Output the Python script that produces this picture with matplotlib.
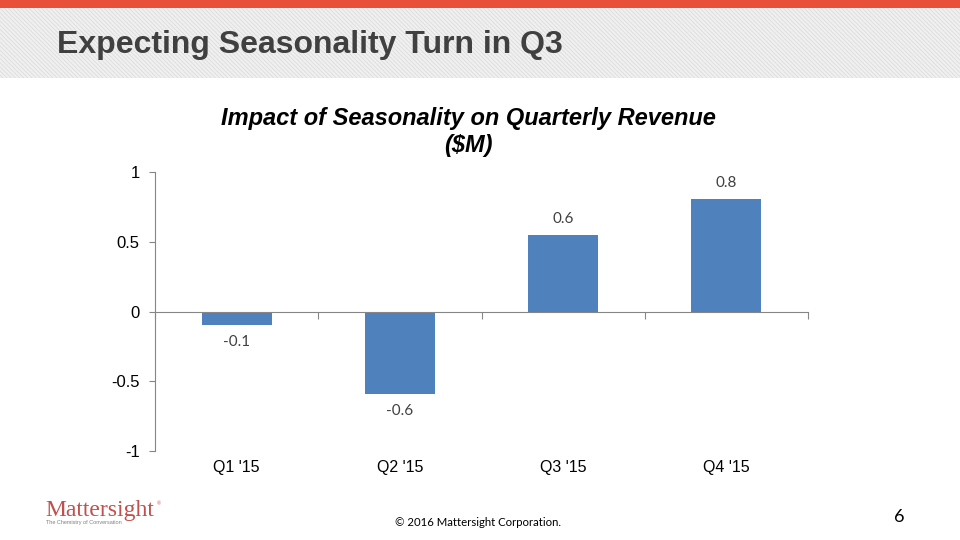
import matplotlib
matplotlib.use("Agg")
import matplotlib.pyplot as plt
from matplotlib.patches import Rectangle
from matplotlib.transforms import blended_transform_factory

# chart data
quarters = ["Q1 '15", "Q2 '15", "Q3 '15", "Q4 '15"]
impact = [-0.1, -0.59, 0.55, 0.81]
impact_labels = ["-0.1", "-0.6", "0.6", "0.8"]
y_ticks = [-1, -0.5, 0, 0.5, 1]
y_tick_labels = ["-1", "-0.5", "0", "0.5", "1"]

bar_color = "#4F81BD"
axis_grey = "#868686"

plt.rcParams["hatch.color"] = "#D9D9D9"
plt.rcParams["hatch.linewidth"] = 0.5

fig = plt.figure(figsize=(9.6, 5.4), dpi=100)
fig.patch.set_facecolor("white")

# slide header: red strip + hatched grey band
fig.patches.append(Rectangle((0, 1 - 78 / 540), 1, 70 / 540, transform=fig.transFigure,
                             facecolor="#F0F0F0", edgecolor="#D9D9D9", hatch="\\" * 8,
                             linewidth=0, zorder=1))
fig.patches.append(Rectangle((0, 1 - 8 / 540), 1, 8 / 540, transform=fig.transFigure,
                             facecolor="#E8503A", edgecolor="none", zorder=2))
fig.text(57 / 960, 1 - 45 / 540, "Expecting Seasonality Turn in Q3",
         family="Liberation Sans", fontweight="bold",
         fontsize=23, color="#404040", va="center", ha="left")

# chart
ax = fig.add_axes([155 / 960, 1 - 451 / 540, 653 / 960, 279 / 540])
x = list(range(len(quarters)))
ax.bar(x, impact, width=0.43, color=bar_color, zorder=2)
ax.set_xlim(-0.5, len(quarters) - 0.5)
ax.set_ylim(-1, 1)

for s in ["top", "right"]:
    ax.spines[s].set_visible(False)
ax.spines["left"].set_color(axis_grey)
ax.spines["bottom"].set_color(axis_grey)
ax.spines["bottom"].set_position(("data", 0))

ax.set_yticks(y_ticks)
ax.set_yticklabels(y_tick_labels, family="Liberation Sans", fontsize=12)
ax.tick_params(axis="y", length=4, color=axis_grey, pad=7)
ax.set_xticks([i - 0.5 for i in range(len(quarters) + 1)])
ax.set_xticklabels([])
ax.tick_params(axis="x", length=5, color=axis_grey, direction="out")

trans = blended_transform_factory(ax.transData, ax.transAxes)
for i, q in enumerate(quarters):
    ax.text(i, -0.06, q, transform=trans, ha="center", va="center",
            family="Liberation Sans", fontsize=11.5, color="black")

for i, (v, lab) in enumerate(zip(impact, impact_labels)):
    if v >= 0:
        ax.annotate(lab, (i, v), xytext=(0, 6), textcoords="offset points",
                    ha="center", va="bottom", fontsize=11, color="#404040", family="Lato")
    else:
        ax.annotate(lab, (i, v), xytext=(0, -7), textcoords="offset points",
                    ha="center", va="top", fontsize=11, color="#404040", family="Lato")

fig.text(468 / 960, 1 - 119 / 540, "Impact of Seasonality on Quarterly Revenue",
         family="Liberation Sans", fontweight="bold", fontstyle="italic",
         fontsize=17, ha="center", va="center")
fig.text(468 / 960, 1 - 145 / 540, "($M)",
         family="Liberation Sans", fontweight="bold", fontstyle="italic",
         fontsize=17, ha="center", va="center")

# footer
fig.text(45 / 960, 1 - 516 / 540, "Mattersight", family="Liberation Serif",
         fontsize=17, color="#C0504D", ha="left", va="baseline")
fig.text(157 / 960, 1 - 505 / 540, "®", family="Liberation Serif",
         fontsize=4, color="#C0504D", ha="left", va="baseline")
fig.text(46 / 960, 1 - 524 / 540, "The Chemistry of Conversation", family="Liberation Sans",
         fontsize=4, color="#808080", ha="left", va="baseline")
fig.text(395 / 960, 1 - 522 / 540, "© 2016 Mattersight Corporation.", family="Lato",
         fontsize=8.2, color="black", ha="left", va="center")
fig.text(899 / 960, 1 - 517 / 540, "6", family="Lato", fontsize=13,
         color="black", ha="center", va="center")

fig.savefig("out.png", dpi=100)
